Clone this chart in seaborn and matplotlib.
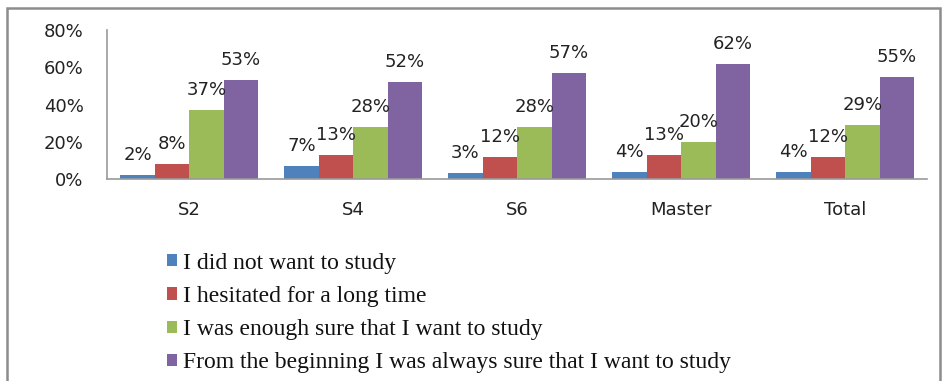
import matplotlib
matplotlib.use("Agg")
import matplotlib.pyplot as plt
import seaborn as sns
import pandas as pd
from matplotlib.patches import Rectangle

categories = ["S2", "S4", "S6", "Master", "Total"]
series = [
    "I did not want to study",
    "I hesitated for a long time",
    "I was enough sure that I want to study",
    "From the beginning I was always sure that I want to study",
]
values = [
    [0.02, 0.07, 0.03, 0.04, 0.04],
    [0.08, 0.13, 0.12, 0.13, 0.12],
    [0.37, 0.28, 0.28, 0.20, 0.29],
    [0.53, 0.52, 0.57, 0.62, 0.55],
]
colors = ["#4F81BD", "#C0504D", "#9BBB59", "#8064A2"]
yticks = [0, 0.2, 0.4, 0.6, 0.8]
ytick_labels = ["0%", "20%", "40%", "60%", "80%"]

rows = []
for s, vals in zip(series, values):
    for c, v in zip(categories, vals):
        rows.append({"cat": c, "series": s, "val": v})
df = pd.DataFrame(rows)

sns.set_theme(style="white")
plt.rcParams["font.family"] = ["DejaVu Sans"]

fig = plt.figure(figsize=(9.48, 3.81), dpi=100)
ax = fig.add_axes([0.113, 0.530, 0.865, 0.391])

sns.barplot(data=df, x="cat", y="val", hue="series", palette=colors,
            width=0.84, saturation=1, ax=ax, legend=True, edgecolor="none")

for cont in ax.containers:
    ax.bar_label(cont, labels=[f"{v*100:.0f}%" for v in cont.datavalues],
                 padding=8, fontsize=13, color="#222222")

ax.set_ylim(0, 0.8)
ax.set_yticks(yticks)
ax.set_yticklabels(ytick_labels, fontsize=13, color="#222222")
ax.tick_params(axis="y", length=0, pad=17)
ax.tick_params(axis="x", length=0, pad=16, labelsize=13, labelcolor="#222222")
ax.set_xlabel("")
ax.set_ylabel("")
for side in ["top", "right"]:
    ax.spines[side].set_visible(False)
for side in ["left", "bottom"]:
    ax.spines[side].set_color("#9a9a9a")
    ax.spines[side].set_linewidth(1.2)

handles, labels = ax.get_legend_handles_labels()
ax.get_legend().remove()
leg = fig.legend(handles, labels, loc="upper left", bbox_to_anchor=(0.176, 0.337),
                 frameon=False, prop={"family": "Liberation Serif", "size": 17},
                 handlelength=0.42, handleheight=0.42, handletextpad=0.25,
                 labelspacing=0.52, borderpad=0, borderaxespad=0)
for t in leg.get_texts():
    t.set_color("#111111")

fig.add_artist(Rectangle((7/948, -0.05), 933/948, 1 - 8/381 + 0.05,
                         transform=fig.transFigure, fill=False,
                         edgecolor="#8c8c8c", linewidth=1.8))

fig.savefig("out.png", dpi=100)
